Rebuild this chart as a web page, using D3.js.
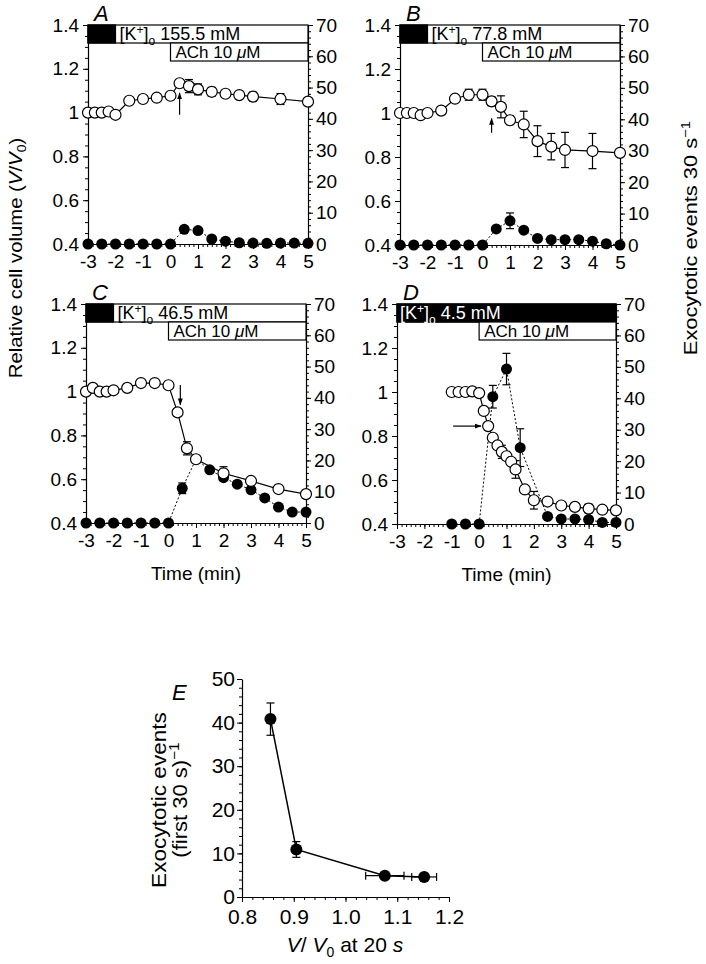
<!DOCTYPE html>
<html><head><meta charset="utf-8">
<script src="https://cdn.jsdelivr.net/npm/d3@7"></script>
<style>
body{margin:0;background:#fff}
svg{display:block}
text{font-family:"Liberation Sans", Arial, Helvetica, sans-serif;fill:#000}
</style>
</head><body><svg id="c" width="706" height="964"></svg>
<script>
// ---------------- DATA ----------------
const timeTicks = [-3,-2,-1,0,1,2,3,4,5];
const volTicks = [0.4,0.6,0.8,1.0,1.2,1.4];
const evTicks = [0,10,20,30,40,50,60,70];
const panelLetters = ["A","B","C","D"];
const kLabels = ["155.5 mM","77.8 mM","46.5 mM","4.5 mM"];
const achLabel = "ACh 10 ";

const volT = [-3,-2.75,-2.5,-2.25,-2,-1.5,-1,-0.5,0,0.33,0.67,1,1.5,2,2.5,3,4,5];
const evT = [-3,-2.5,-2,-1.5,-1,-0.5,0,0.5,1,1.5,2,2.5,3,3.5,4,4.5,5];

const aVol    = [1.0,1.0,1.0,1.005,0.99,1.054,1.062,1.068,1.077,1.134,1.121,1.106,1.095,1.086,1.08,1.073,1.062,1.05];
const aVolErr = [0,0,0,0,0,0,0,0,0,0,0.03,0.025,0.02,0,0,0.02,0.025,0];
const aEv     = [0,0,0,0,0,0,0,4.7,4.3,1.6,0.9,0.4,0.3,0.2,0.3,0.3,0.2];
const aEvErr  = [0,0,0,0,0,0,0,0,0,0,0,0,0,0,0,0,0];

const bVol    = [1.0,1.0,1.0,0.99,1.0,1.011,1.065,1.083,1.083,1.053,1.028,0.967,0.948,0.872,0.847,0.832,0.827,0.819];
const bVolErr = [0,0,0,0,0,0,0,0.025,0.025,0.02,0.05,0.02,0.06,0.07,0.06,0.08,0.08,0];
const bEv     = [0,0,0,0,0,0,0,5.1,7.7,4.7,2.1,1.7,1.7,1.7,1.2,0.4,0];
const bEvErr  = [0,0,0,0,0,0,0,0,2.5,0,0,0,0,0,0,0,0];

const cVolT   = [-3,-2.75,-2.5,-2.25,-2,-1.5,-1,-0.5,0,0.33,0.67,1,2,3,4,5];
const cVol    = [1.0,1.017,1.0,1.0,1.006,1.017,1.039,1.039,1.029,0.905,0.741,0.691,0.627,0.592,0.555,0.532];
const cVolErr = [0,0,0,0,0,0,0,0,0,0,0.03,0,0.03,0,0,0];
const cEv     = [0,0,0,0,0,0,0,11.1,20.4,17,14.5,12.4,10.6,8,5.1,3.5,3.5];
const cEvErr  = [0,0,0,0,0,0,0,1.7,0,0,0,0,0,0,0,0,0];

const dVolT   = [-1,-0.75,-0.5,-0.25,0,0.17,0.33,0.5,0.67,0.83,1,1.17,1.33,1.67,2,2.5,3,3.5,4,4.5,5];
const dVol    = [1.0,1.0,1.0,1.003,0.995,0.914,0.845,0.792,0.757,0.728,0.708,0.683,0.648,0.557,0.508,0.502,0.484,0.478,0.47,0.465,0.462];
const dVolErr = [0,0,0,0,0,0,0,0,0,0.03,0,0,0.04,0,0.04,0,0,0,0.02,0,0];
const dEvT    = [-1,-0.5,0,0.5,1,1.5,2.5,3,3.5,4,4.5,5];
const dEv     = [0,0,0,40.5,49.3,24.3,2.4,1.6,1.6,1.4,0.5,0.5];
const dEvErr  = [0,0,0,3.6,5,6,0,0,0,1,0,0];

// panel E
const eX     = [0.855,0.905,1.076,1.152];
const eY     = [40.8,10.9,4.9,4.6];
const eXErr  = [0.007,0.006,0.037,0.024];
const eYErr  = [3.7,1.8,0.4,0.4];
const eXTicks = [0.8,0.9,1.0,1.1,1.2];
const eYTicks = [0,10,20,30,40,50];

// ---------------- DRAWING ----------------
const svg = d3.select("#c");

const panels = [
  {x0:88, x1:308, yt:25, yb:244, vt:volT, v:aVol, ve:aVolErr, et:evT, e:aEv, ee:aEvErr, black:-2, arrow:{from:[0.33,0.99],to:[0.33,1.09]}},
  {x0:400,x1:620, yt:25, yb:245, vt:volT, v:bVol, ve:bVolErr, et:evT, e:bEv, ee:bEvErr, black:-2, arrow:{from:[0.33,0.91],to:[0.33,0.975]}},
  {x0:86, x1:306, yt:304,yb:523, vt:cVolT,v:cVol, ve:cVolErr, et:evT, e:cEv, ee:cEvErr, black:-2, arrow:{from:[0.43,1.03],to:[0.43,0.94]}},
  {x0:397,x1:616, yt:304,yb:524, vt:dVolT,v:dVol, ve:dVolErr, et:dEvT,e:dEv, ee:dEvErr, black:5, arrow:{from:[-0.95,0.845],to:[0.07,0.845]}}
];

svg.append("defs").append("marker").attr("id","ah")
  .attr("viewBox","0 0 10 10").attr("refX",9).attr("refY",5)
  .attr("markerWidth",7).attr("markerHeight",7).attr("markerUnits","userSpaceOnUse")
  .attr("orient","auto")
  .append("path").attr("d","M0,1.5 L10,5 L0,8.5 Z").attr("fill","#000");

function styleAxis(g, fs){
  g.selectAll("path.domain").attr("stroke","#000").attr("stroke-width",1.2);
  g.selectAll(".tick line").attr("stroke","#000").attr("stroke-width",1);
  g.selectAll(".tick text").attr("font-size",fs).attr("font-family",'"Liberation Sans", Arial, sans-serif').attr("fill","#000");
}
function minor(g){ g.select("path.domain").remove(); g.selectAll(".tick text").remove(); }

panels.forEach((p,i)=>{
  const x = d3.scaleLinear().domain([-3,5]).range([p.x0,p.x1]);
  const yv = d3.scaleLinear().domain([0.4,1.4]).range([p.yb,p.yt]);
  const ye = d3.scaleLinear().domain([0,70]).range([p.yb,p.yt]);
  const g = svg.append("g");

  // minor ticks
  g.append("g").attr("transform",`translate(${p.x0},0)`)
    .call(d3.axisLeft(yv).tickValues(d3.range(0,21).map(k=>0.4+k*0.05)).tickSize(3)).call(minor);
  g.append("g").attr("transform",`translate(${p.x1},0)`)
    .call(d3.axisRight(ye).tickValues(d3.range(0,36).map(k=>k*2)).tickSize(3)).call(minor);
  g.append("g").attr("transform",`translate(0,${p.yb})`)
    .call(d3.axisBottom(x).tickValues(d3.range(0,49).map(k=>-3+k/6)).tickSize(3)).call(minor);

  // major axes
  const fmtV = d3.format("~g");
  g.append("g").attr("transform",`translate(${p.x0},0)`)
    .call(d3.axisLeft(yv).tickValues(volTicks).tickFormat(fmtV).tickSize(5).tickPadding(4).tickSizeOuter(0))
    .call(a=>styleAxis(a,19));
  g.append("g").attr("transform",`translate(${p.x1},0)`)
    .call(d3.axisRight(ye).tickValues(evTicks).tickSize(5).tickPadding(3).tickSizeOuter(0))
    .call(a=>styleAxis(a,19));
  g.append("g").attr("transform",`translate(0,${p.yb})`)
    .call(d3.axisBottom(x).tickValues(timeTicks).tickFormat(d=>String(d)).tickSize(5).tickPadding(6).tickSizeOuter(0))
    .call(a=>styleAxis(a,19));

  // condition bars
  const bh = 18;
  g.append("rect").attr("x",p.x0).attr("y",p.yt).attr("width",p.x1-p.x0).attr("height",bh)
    .attr("fill","#fff").attr("stroke","#000").attr("stroke-width",1.2);
  g.append("rect").attr("x",p.x0).attr("y",p.yt).attr("width",x(p.black)-p.x0).attr("height",bh)
    .attr("fill","#000").attr("stroke","#000").attr("stroke-width",1.2);
  const kx = p.black === 5 ? x(-3)+3 : x(p.black)+4;
  const kcol = p.black === 5 ? "#fff" : "#000";
  const kt = g.append("text").attr("x",kx).attr("y",p.yt+15).attr("font-size",18).style("fill",kcol);
  kt.append("tspan").text("[K");
  kt.append("tspan").attr("dy",-6).attr("font-size",12).text("+");
  kt.append("tspan").attr("dy",6).text("]");
  kt.append("tspan").attr("dy",5).attr("font-size",12).text("o");
  kt.append("tspan").attr("dy",-5).text(" "+kLabels[i]);

  g.append("rect").attr("x",x(0)).attr("y",p.yt+bh).attr("width",p.x1-x(0)).attr("height",bh)
    .attr("fill","#fff").attr("stroke","#000").attr("stroke-width",1.2);
  const at = g.append("text").attr("x",x(0)+5).attr("y",p.yt+bh+15).attr("font-size",17);
  at.append("tspan").text(achLabel);
  at.append("tspan").attr("font-style","italic").text("\u03bc");
  at.append("tspan").text("M");

  // panel letter
  g.append("text").attr("x",p.x0+6).attr("y",p.yt-4).attr("font-size",22).attr("font-style","italic").text(panelLetters[i]);

  // events (filled)
  const evData = p.et.map((t,k)=>({t, v:p.e[k], err:p.ee[k]}));
  g.append("path").datum(evData)
    .attr("d", d3.line().x(d=>x(d.t)).y(d=>ye(d.v)))
    .attr("fill","none").attr("stroke","#000").attr("stroke-width",1).attr("stroke-dasharray","2,2");
  evData.filter(d=>d.err>0).forEach(d=>{
    g.append("line").attr("x1",x(d.t)).attr("x2",x(d.t)).attr("y1",ye(d.v-d.err)).attr("y2",ye(d.v+d.err)).attr("stroke","#000").attr("stroke-width",1.2);
    [d.v-d.err,d.v+d.err].forEach(yy=>g.append("line").attr("x1",x(d.t)-4).attr("x2",x(d.t)+4).attr("y1",ye(yy)).attr("y2",ye(yy)).attr("stroke","#000").attr("stroke-width",1.2));
  });
  g.selectAll("circle.ev").data(evData).join("circle").attr("class","ev")
    .attr("cx",d=>x(d.t)).attr("cy",d=>ye(d.v)).attr("r",5.5).attr("fill","#000");

  // volume (open)
  const vData = p.vt.map((t,k)=>({t, v:p.v[k], err:p.ve[k]}));
  vData.filter(d=>d.err>0).forEach(d=>{
    g.append("line").attr("x1",x(d.t)).attr("x2",x(d.t)).attr("y1",yv(d.v-d.err)).attr("y2",yv(d.v+d.err)).attr("stroke","#000").attr("stroke-width",1.2);
    [d.v-d.err,d.v+d.err].forEach(yy=>g.append("line").attr("x1",x(d.t)-4).attr("x2",x(d.t)+4).attr("y1",yv(yy)).attr("y2",yv(yy)).attr("stroke","#000").attr("stroke-width",1.2));
  });
  g.append("path").datum(vData)
    .attr("d", d3.line().x(d=>x(d.t)).y(d=>yv(d.v)))
    .attr("fill","none").attr("stroke","#000").attr("stroke-width",1.2);
  g.selectAll("circle.vol").data(vData).join("circle").attr("class","vol")
    .attr("cx",d=>x(d.t)).attr("cy",d=>yv(d.v)).attr("r",5.5).attr("fill","#fff").attr("stroke","#000").attr("stroke-width",1.2);

  // arrow
  g.append("line").attr("x1",x(p.arrow.from[0])).attr("y1",yv(p.arrow.from[1]))
    .attr("x2",x(p.arrow.to[0])).attr("y2",yv(p.arrow.to[1]))
    .attr("stroke","#000").attr("stroke-width",1.2).attr("marker-end","url(#ah)");

  // time label
  if (i>=2) {
    g.append("text").attr("x",(p.x0+p.x1)/2).attr("y",p.yb+57).attr("text-anchor","middle").attr("font-size",19).text("Time (min)");
  }
});

// axis titles
const lt = svg.append("text").attr("transform","translate(22,258) rotate(-90) scale(1.07,1)").attr("text-anchor","middle").attr("font-size",19);
lt.append("tspan").text("Relative cell volume (");
lt.append("tspan").attr("font-style","italic").text("V");
lt.append("tspan").text("/");
lt.append("tspan").attr("font-style","italic").text("V");
lt.append("tspan").attr("dy",4).attr("font-size",13).text("0");
lt.append("tspan").attr("dy",-4).text(")");

const rt = svg.append("text").attr("transform","translate(697,238) rotate(-90) scale(1.15,1)").attr("text-anchor","middle").attr("font-size",19);
rt.append("tspan").text("Exocytotic events 30 s");
rt.append("tspan").attr("dy",-7).attr("font-size",13).text("\u22121");

// ---------------- PANEL E ----------------
const xE = d3.scaleLinear().domain([0.8,1.2]).range([242,449]);
const yE = d3.scaleLinear().domain([0,50]).range([897,679]);
const gE = svg.append("g");
gE.append("g").attr("transform","translate(242,0)")
  .call(d3.axisLeft(yE).tickValues(d3.range(0,26).map(k=>k*2)).tickSize(3)).call(minor);
gE.append("g").attr("transform","translate(0,897)")
  .call(d3.axisBottom(xE).tickValues(d3.range(0,21).map(k=>0.8+k*0.02)).tickSize(3)).call(minor);
gE.append("g").attr("transform","translate(242,0)")
  .call(d3.axisLeft(yE).tickValues(eYTicks).tickSize(5).tickPadding(2).tickSizeOuter(0))
  .call(a=>styleAxis(a,21));
gE.append("g").attr("transform","translate(0,897)")
  .call(d3.axisBottom(xE).tickValues(eXTicks).tickFormat(d3.format(".1f")).tickSize(5).tickPadding(7).tickSizeOuter(0))
  .call(a=>styleAxis(a,21));

const eData = eX.map((v,k)=>({x:v,y:eY[k],ex:eXErr[k],ey:eYErr[k]}));
eData.forEach(d=>{
  gE.append("line").attr("x1",xE(d.x-d.ex)).attr("x2",xE(d.x+d.ex)).attr("y1",yE(d.y)).attr("y2",yE(d.y)).attr("stroke","#000").attr("stroke-width",1.2);
  [d.x-d.ex,d.x+d.ex].forEach(xx=>gE.append("line").attr("x1",xE(xx)).attr("x2",xE(xx)).attr("y1",yE(d.y)-4).attr("y2",yE(d.y)+4).attr("stroke","#000").attr("stroke-width",1.2));
  gE.append("line").attr("x1",xE(d.x)).attr("x2",xE(d.x)).attr("y1",yE(d.y-d.ey)).attr("y2",yE(d.y+d.ey)).attr("stroke","#000").attr("stroke-width",1.2);
  [d.y-d.ey,d.y+d.ey].forEach(yy=>gE.append("line").attr("x1",xE(d.x)-4).attr("x2",xE(d.x)+4).attr("y1",yE(yy)).attr("y2",yE(yy)).attr("stroke","#000").attr("stroke-width",1.2));
});
gE.append("path").datum(eData).attr("d",d3.line().x(d=>xE(d.x)).y(d=>yE(d.y)))
  .attr("fill","none").attr("stroke","#000").attr("stroke-width",1.5);
gE.selectAll("circle").data(eData).join("circle").attr("cx",d=>xE(d.x)).attr("cy",d=>yE(d.y)).attr("r",6).attr("fill","#000");

gE.append("text").attr("x",172).attr("y",700).attr("font-size",22).attr("font-style","italic").text("E");
gE.append("text").attr("transform","translate(166,800) rotate(-90) scale(1.13,1)").attr("text-anchor","middle").attr("font-size",20).text("Exocytotic events");
const e2 = gE.append("text").attr("transform","translate(187,800) rotate(-90) scale(1.1,1)").attr("text-anchor","middle").attr("font-size",20);
e2.append("tspan").text("(first 30 s)");
e2.append("tspan").attr("dy",-8).attr("font-size",14).text("\u22121");
const ex = gE.append("text").attr("x",345).attr("y",952).attr("text-anchor","middle").attr("font-size",21);
ex.append("tspan").attr("font-style","italic").text("V");
ex.append("tspan").text("/ ");
ex.append("tspan").attr("font-style","italic").text("V");
ex.append("tspan").attr("dy",5).attr("font-size",14).text("0");
ex.append("tspan").attr("dy",-5).text(" at 20 ");
ex.append("tspan").attr("font-style","italic").text("s");
</script>
</body></html>
